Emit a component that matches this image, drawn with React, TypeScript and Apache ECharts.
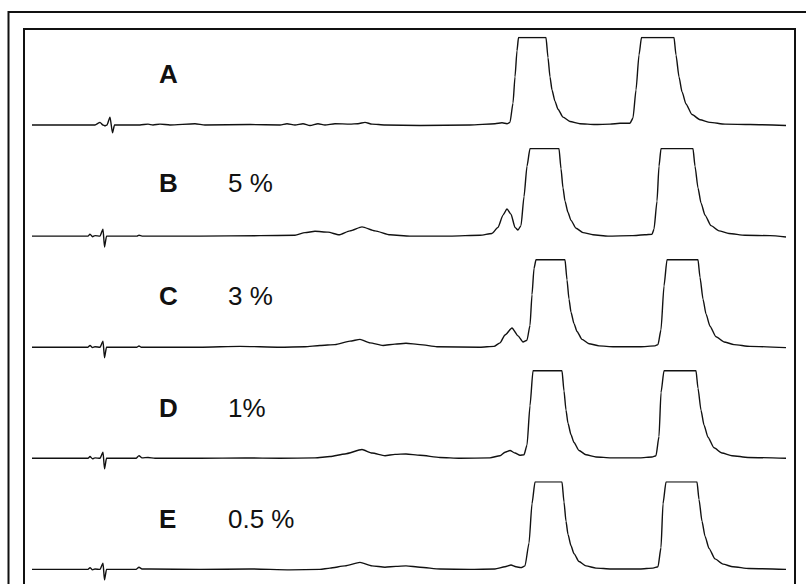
import React, { useEffect, useRef } from "react";
import * as echarts from "echarts";

// Retention time (min) and detector signal (% of full scale, saturated at 100)
const traceA: number[][] = [
  [0.0, 0], [0.63, 0], [0.68, 3], [0.71, 0], [0.73, -1], [0.75, 0], [0.78, 9], [0.805, -9], [0.825, 0], [0.85, 0],
  [1.08, 0], [1.16, 1], [1.21, 0], [1.28, 1], [1.38, 0], [1.63, 1.5], [1.73, 0], [2.18, 0.5], [2.48, 0],
  [2.55, 1.5], [2.63, 0], [2.71, 1.5], [2.78, -0.5], [2.86, 1.5], [2.93, 0], [3.03, 1.5], [3.18, 1], [3.26, 1.5],
  [3.33, 3], [3.4, 1], [3.53, 0], [3.88, -0.5], [4.38, 0], [4.63, 1.5], [4.7, 2.5], [4.75, 1.5], [4.78, 3],
  [4.81, 25], [4.83, 55], [4.85, 85], [4.865, 100], [5.14, 100], [5.16, 77], [5.18, 55], [5.2, 40], [5.23, 27],
  [5.26, 18], [5.31, 9], [5.38, 4], [5.48, 1.5], [5.63, 0.5], [5.78, 1], [5.88, 2], [5.98, 2], [6.01, 8],
  [6.04, 40], [6.07, 80], [6.095, 100], [6.42, 100], [6.44, 80], [6.47, 55], [6.5, 38], [6.54, 24], [6.6, 12],
  [6.68, 6], [6.78, 3], [6.93, 1], [7.18, 0.5], [7.54, -0.5],
];
const traceB: number[][] = [
  [0.0, 0], [0.56, 0], [0.58, 2.3], [0.605, -0.7], [0.63, 0.5], [0.68, 0], [0.71, 8], [0.725, -12.5], [0.745, 0],
  [0.78, 0], [1.05, 0], [1.07, 1], [1.1, 0], [1.68, 0], [2.28, 0.5], [2.63, 1], [2.73, 4], [2.83, 5.5],
  [2.96, 4.5], [3.07, 1.5], [3.18, 6], [3.3, 10.5], [3.43, 6], [3.58, 1.5], [3.78, 0], [4.18, 0], [4.48, 1],
  [4.6, 3], [4.66, 10], [4.71, 24], [4.75, 31], [4.79, 25], [4.83, 10], [4.86, 7], [4.89, 12], [4.92, 45],
  [4.95, 80], [4.98, 100], [5.27, 100], [5.29, 77], [5.31, 55], [5.33, 40], [5.36, 27], [5.39, 18], [5.44, 9],
  [5.51, 4], [5.61, 1.5], [5.76, 0], [6.0, 0.5], [6.13, 1.5], [6.2, 2], [6.22, 8], [6.25, 40], [6.27, 80],
  [6.29, 100], [6.61, 100], [6.63, 80], [6.66, 55], [6.69, 38], [6.73, 24], [6.79, 12], [6.87, 6], [6.97, 3],
  [7.13, 1], [7.38, 0.5], [7.54, -1],
];
const traceC: number[][] = [
  [0.0, 0], [0.56, 0], [0.58, 2], [0.605, -0.5], [0.63, 0.5], [0.68, 0], [0.71, 7], [0.725, -12], [0.745, 0],
  [0.78, 0], [1.05, 0], [1.07, 1.5], [1.09, 0], [1.68, 0], [2.08, 1], [2.48, 0], [2.73, 0.5], [2.88, 2],
  [3.03, 3], [3.18, 7], [3.28, 9], [3.38, 5], [3.51, 2], [3.63, 3.5], [3.74, 4.5], [3.88, 3], [4.05, 0.5],
  [4.48, 0], [4.62, 1], [4.68, 5], [4.73, 14], [4.8, 22], [4.86, 13], [4.91, 6], [4.95, 8], [4.98, 25],
  [5.0, 60], [5.02, 90], [5.04, 100], [5.33, 100], [5.35, 77], [5.37, 55], [5.39, 40], [5.42, 27], [5.45, 18],
  [5.5, 9], [5.57, 4], [5.67, 1.5], [5.82, 0.5], [6.08, 0.5], [6.23, 1.5], [6.26, 3], [6.29, 20], [6.32, 70],
  [6.35, 100], [6.66, 100], [6.68, 80], [6.71, 55], [6.74, 38], [6.78, 24], [6.84, 12], [6.92, 6], [7.02, 3],
  [7.18, 1], [7.54, -0.5],
];
const traceD: number[][] = [
  [0.0, 0], [0.56, 0], [0.58, 2], [0.605, -0.5], [0.63, 0.5], [0.68, 0], [0.71, 7], [0.725, -12], [0.745, 0],
  [0.78, 0], [1.04, 0], [1.07, 3], [1.1, 0.5], [1.16, 1], [1.23, 0], [1.68, 0], [2.13, 0.5], [2.48, 0],
  [2.83, 0.5], [2.98, 2], [3.13, 5], [3.3, 10], [3.4, 6], [3.53, 3], [3.63, 4.5], [3.74, 5], [3.88, 3.5],
  [4.08, 1], [4.28, 0], [4.58, 0.5], [4.68, 3], [4.73, 7], [4.78, 9], [4.83, 6], [4.88, 3.5], [4.92, 4],
  [4.95, 15], [4.98, 60], [5.01, 100], [5.3, 100], [5.32, 77], [5.34, 55], [5.36, 40], [5.39, 27], [5.42, 18],
  [5.47, 9], [5.54, 4], [5.64, 1.5], [5.79, 0.5], [6.08, 0.5], [6.2, 1.5], [6.24, 3], [6.27, 25], [6.29, 75],
  [6.32, 100], [6.64, 100], [6.66, 80], [6.69, 55], [6.72, 38], [6.76, 24], [6.82, 12], [6.9, 6], [7.0, 3],
  [7.16, 1], [7.54, 0],
];
const traceE: number[][] = [
  [0.0, 0], [0.56, 0], [0.58, 2], [0.605, -0.5], [0.63, 0.5], [0.68, 0], [0.71, 7], [0.725, -12], [0.745, 0],
  [0.78, 0], [1.04, 0], [1.07, 2.5], [1.1, 0.5], [1.18, 0.5], [1.68, 0], [2.18, 0.5], [2.58, -0.5], [2.88, 0],
  [2.98, 1.5], [3.13, 4], [3.28, 8], [3.4, 4], [3.53, 2.5], [3.64, 3.5], [3.74, 4], [3.88, 2.5], [4.08, 0.5],
  [4.38, 0], [4.63, 0.5], [4.73, 3], [4.79, 5], [4.84, 3], [4.89, 2], [4.93, 4], [4.97, 30], [5.0, 75],
  [5.03, 100], [5.3, 100], [5.32, 77], [5.34, 55], [5.36, 40], [5.39, 27], [5.42, 18], [5.47, 9], [5.54, 4],
  [5.64, 1.5], [5.79, 0.5], [6.08, 0.5], [6.21, 1.5], [6.26, 3], [6.29, 25], [6.31, 75], [6.34, 100],
  [6.65, 100], [6.67, 80], [6.7, 55], [6.73, 38], [6.77, 24], [6.83, 12], [6.91, 6], [7.01, 3], [7.17, 1],
  [7.54, 0],
];

const traces = [traceA, traceB, traceC, traceD, traceE];
const panelLetters = ["A", "B", "C", "D", "E"];
const panelConcentrations = ["", "5 %", "3 %", "1%", "0.5 %"];

const X_MIN = 0;
const X_MAX = 7.6;
const Y_MIN = -15;
const Y_MAX = 100;

export default function App() {
  const ref = useRef<HTMLDivElement>(null);

  useEffect(() => {
    document.body.style.margin = "0";
    if (!ref.current) return;
    const chart = echarts.init(ref.current, null, { renderer: "svg" });

    const panelTop0 = 37.5;
    const panelStep = 111.1;
    const pxPerUnit = 0.875;
    const gridHeight = (Y_MAX - Y_MIN) * pxPerUnit;

    const grids = traces.map((_, i) => ({
      left: 32,
      width: 760,
      top: panelTop0 + panelStep * i,
      height: gridHeight,
      containLabel: false,
    }));
    const xAxes = traces.map((_, i) => ({
      type: "value" as const,
      gridIndex: i,
      min: X_MIN,
      max: X_MAX,
      show: false,
    }));
    const yAxes = traces.map((_, i) => ({
      type: "value" as const,
      gridIndex: i,
      min: Y_MIN,
      max: Y_MAX,
      show: false,
    }));
    const series = traces.map((d, i) => ({
      type: "line" as const,
      xAxisIndex: i,
      yAxisIndex: i,
      data: d,
      showSymbol: false,
      smooth: 0.2,
      smoothMonotone: "x" as const,
      lineStyle: { color: "#111", width: 1.4 },
      silent: true,
    }));

    const labelCenters = [74, 183, 296, 408, 519];
    const graphics: any[] = [
      {
        type: "rect",
        shape: { x: 8.5, y: 12, width: 830, height: 620 },
        style: { fill: "none", stroke: "#111", lineWidth: 2 },
      },
      {
        type: "rect",
        shape: { x: 24, y: 29, width: 771, height: 620 },
        style: { fill: "none", stroke: "#111", lineWidth: 2 },
      },
    ];
    panelLetters.forEach((l, i) => {
      graphics.push({
        type: "text",
        x: 159,
        y: labelCenters[i],
        style: {
          text: l,
          font: 'bold 26px "Liberation Sans", Arial, sans-serif',
          fill: "#111",
          verticalAlign: "middle",
          align: "left",
        },
      });
      if (panelConcentrations[i]) {
        graphics.push({
          type: "text",
          x: 228,
          y: labelCenters[i],
          style: {
            text: panelConcentrations[i],
            font: '26px "Liberation Sans", Arial, sans-serif',
            fill: "#111",
            verticalAlign: "middle",
            align: "left",
          },
        });
      }
    });

    chart.setOption({
      animation: false,
      backgroundColor: "#fff",
      grid: grids,
      xAxis: xAxes,
      yAxis: yAxes,
      series,
      graphic: graphics,
    });
    return () => chart.dispose();
  }, []);

  return (
    <div
      ref={ref}
      style={{ width: 806, height: 584, position: "absolute", left: 0, top: 0 }}
    />
  );
}
